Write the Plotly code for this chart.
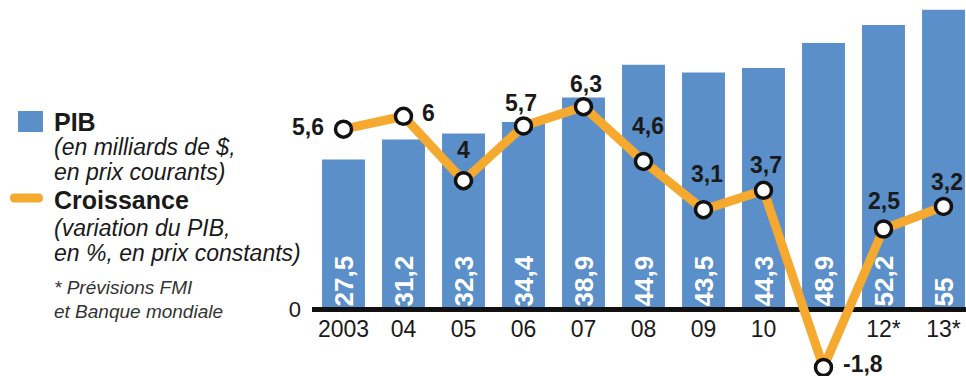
import plotly.graph_objects as go

# --- data -------------------------------------------------------------
years = [2003, 2004, 2005, 2006, 2007, 2008, 2009, 2010, 2011, 2012, 2013]
year_labels = ["2003", "04", "05", "06", "07", "08", "09", "10", "", "12*", "13*"]
pib = [27.5, 31.2, 32.3, 34.4, 38.9, 44.9, 43.5, 44.3, 48.9, 52.2, 55]
croissance = [5.6, 6, 4, 5.7, 6.3, 4.6, 3.1, 3.7, -1.8, 2.5, 3.2]

# label placement around each growth point (pixels): dx, dy, x-anchor
label_offsets = [(-18, 2, "right"), (16, 3, "left"), (0, 31, "center"),
                 (-3, 23, "center"), (2, 23, "center"), (4, 35, "center"),
                 (3, 36, "center"), (2, 25, "center"), (17, 3, "left"),
                 (0, 28, "center"), (3, 24, "center")]

W, H = 966, 376
BLUE = "#5A8FC9"
ORANGE = "#F5A92E"
FONT = "Liberation Sans, Arial, sans-serif"
NARROW = "Liberation Sans Narrow, Arial Narrow, Liberation Sans, sans-serif"

def fr(v):
    return f"{v:g}".replace(".", ",")

def px(x, y):
    return x / W, 1 - y / H

x = list(range(len(years)))

# axis geometry (plot spans whole canvas vertically, starts at the baseline on the left)
x_range = [-0.525, 10.375]
zero_px = 309.5
y1_scale = 5.45    # px per milliard $
y2_scale = 32.2    # px per % point
y1_range = [-(H - zero_px) / y1_scale, zero_px / y1_scale]
y2_range = [-(H - zero_px) / y2_scale, zero_px / y2_scale]

fig = go.Figure()

fig.add_trace(go.Bar(
    x=x, y=pib, marker=dict(color=BLUE, line=dict(width=0)),
    width=0.715,
    text=[fr(v) for v in pib], textposition="inside", insidetextanchor="start",
    textangle=-90, textfont=dict(family=NARROW, size=26, color="white", weight="bold"),
    cliponaxis=False, hoverinfo="skip", yaxis="y",
))

# baseline
fig.add_trace(go.Scatter(
    x=x_range, y=[0, 0], mode="lines", line=dict(color="#111111", width=5),
    hoverinfo="skip", yaxis="y2",
))

fig.add_trace(go.Scatter(
    x=x, y=croissance, mode="lines+markers",
    line=dict(color=ORANGE, width=9),
    marker=dict(size=16, color="white", line=dict(color="#111111", width=3.5)),
    cliponaxis=False, hoverinfo="skip", yaxis="y2",
))

annotations = []
for xi, v, (dx, dy, anc) in zip(x, croissance, label_offsets):
    annotations.append(dict(
        x=xi, y=v, xref="x", yref="y2", text=fr(v), showarrow=False,
        xanchor=anc, yanchor="middle", xshift=dx, yshift=dy,
        font=dict(family=FONT, size=23, color="#1a1a1a", weight="bold"),
    ))

# legend block
legend_lines = [
    ("<b>PIB</b>", 122, 25, False),
    ("<i>(en milliards de $,</i>", 147, 23, False),
    ("<i>en prix courants)</i>", 172, 23, False),
    ("<b>Croissance</b>", 200, 25, False),
    ("<i>(variation du PIB,</i>", 228, 23, False),
    ("<i>en %, en prix constants)</i>", 253, 23, False),
    ("<i>* Prévisions FMI</i>", 287, 19, True),
    ("<i>et Banque mondiale</i>", 311, 19, True),
]
for txt, yy, size, small in legend_lines:
    xp, yp = px(52, yy)
    annotations.append(dict(
        x=xp, y=yp, xref="paper", yref="paper", text=txt, showarrow=False,
        xanchor="left", yanchor="middle",
        font=dict(family=FONT, size=size, color="#333333" if small else "#1a1a1a"),
    ))

shapes = []
x0, y0 = px(18, 111)
x1, y1 = px(43, 132)
shapes.append(dict(type="rect", xref="paper", yref="paper", x0=x0, x1=x1, y0=y1, y1=y0,
                   fillcolor=BLUE, line=dict(width=0)))

# rounded orange swatch
def rounded_bar(xa, xb, yc, r):
    def P(a, b):
        u, v = px(a, b)
        return f"{u:.5f},{v:.5f}"
    return (f"M {P(xa + r, yc - r)} L {P(xb - r, yc - r)} "
            f"Q {P(xb, yc - r)} {P(xb, yc)} Q {P(xb, yc + r)} {P(xb - r, yc + r)} "
            f"L {P(xa + r, yc + r)} Q {P(xa, yc + r)} {P(xa, yc)} "
            f"Q {P(xa, yc - r)} {P(xa + r, yc - r)} Z")

shapes.append(dict(type="path", xref="paper", yref="paper", path=rounded_bar(10, 43, 198, 4.5),
                   fillcolor=ORANGE, line=dict(width=0)))

fig.update_layout(
    width=W, height=H, margin=dict(l=0, r=0, t=0, b=0),
    paper_bgcolor="white", plot_bgcolor="white", showlegend=False,
    bargap=0.3,
    xaxis=dict(domain=[312 / W, 1], range=x_range, anchor="free", position=1 - (zero_px + 3) / H,
               tickmode="array", tickvals=x, ticktext=year_labels, ticks="",
               tickfont=dict(family=NARROW, size=23, color="#1a1a1a"),
               showgrid=False, zeroline=False, showline=False, fixedrange=True),
    yaxis=dict(range=y1_range, tickmode="array", tickvals=[0], ticktext=["0"], ticks="",
               tickfont=dict(family=FONT, size=22, color="#1a1a1a"), ticklabelstandoff=10,
               showgrid=False, zeroline=False, showline=False, fixedrange=True),
    yaxis2=dict(range=y2_range, overlaying="y", side="right", visible=False,
                showgrid=False, zeroline=False, fixedrange=True),
    annotations=annotations, shapes=shapes,
)

fig.write_html("out.html")
